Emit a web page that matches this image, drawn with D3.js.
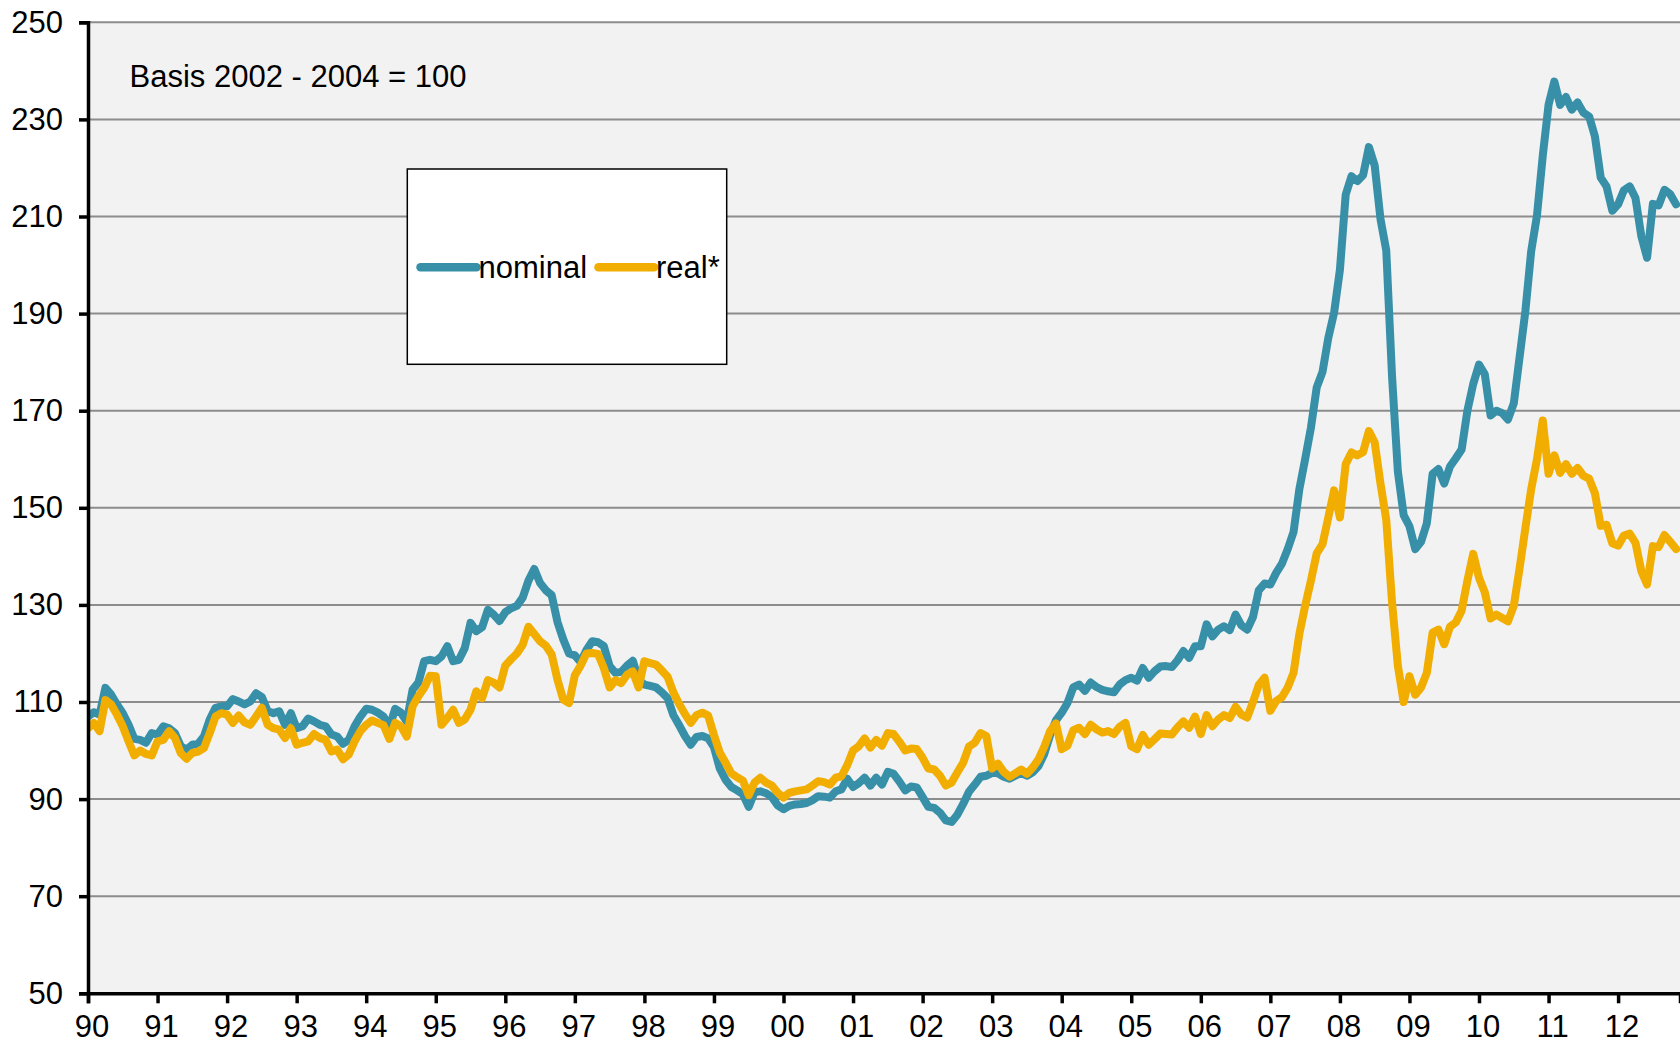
<!DOCTYPE html>
<html>
<head>
<meta charset="utf-8">
<script src="https://cdn.jsdelivr.net/npm/d3@7"></script>
<style>
  html, body { margin: 0; padding: 0; background: #ffffff; }
  svg { display: block; }
  text { font-family: "Liberation Sans", Arial, Helvetica, sans-serif; fill: #000; }
</style>
</head>
<body>
<svg id="chart" width="1680" height="1044"></svg>
<script>
// ---------- DATA ----------
const startYear = 1990; // first value = January 1990, monthly values
const nominal = [
  107.0,107.9,107.4,112.9,111.5,109.5,107.7,105.3,102.4,102.2,101.6,103.6,
  103.3,105.0,104.6,103.6,100.9,100.2,101.2,101.4,102.9,106.4,108.8,109.1,
  109.1,110.6,110.1,109.5,110.1,111.8,111.0,108.1,107.7,108.1,105.3,107.7,
  104.6,105.0,106.6,106.0,105.3,105.0,103.3,102.9,101.4,102.2,105.0,107.0,
  108.6,108.4,107.8,107.0,104.8,108.6,107.8,106.0,112.5,114.0,118.4,118.7,
  118.4,119.4,121.5,118.4,118.7,121.1,126.3,124.6,125.4,129.0,128.0,126.7,
  128.5,129.3,129.8,131.5,135.0,137.4,134.5,133.0,132.0,126.5,122.9,120.0,
  119.6,118.2,120.7,122.5,122.3,121.5,117.4,116.0,116.2,117.5,118.5,114.5,
  113.6,113.3,113.0,112.0,110.8,107.3,105.2,103.0,101.2,102.8,103.0,102.5,
  100.7,96.3,94.0,92.5,91.8,91.0,88.4,91.4,91.6,91.2,90.4,88.7,
  87.9,88.6,88.9,89.0,89.2,89.8,90.6,90.5,90.3,91.6,92.0,94.2,
  92.5,93.3,94.4,92.8,94.4,93.0,95.6,95.2,93.6,91.8,92.6,92.4,
  90.4,88.4,88.2,87.2,85.6,85.3,86.8,89.0,91.5,93.0,94.6,94.8,
  95.4,95.3,94.6,94.2,94.8,95.4,94.8,95.5,96.8,99.3,103.2,106.2,
  107.8,109.8,113.0,113.6,112.3,114.0,113.1,112.5,112.2,112.0,113.6,114.5,
  115.0,114.4,117.0,115.0,116.3,117.3,117.4,117.2,118.6,120.5,119.1,121.5,
  121.5,126.0,123.5,124.9,125.6,124.8,128.0,125.8,124.9,127.5,133.0,134.4,
  134.2,136.6,138.5,141.5,145.0,153.8,160.0,166.5,174.8,178.0,185.0,190.2,
  199.0,214.5,218.3,217.3,218.5,224.3,220.5,209.5,203.0,177.0,157.5,148.5,
  146.2,141.5,143.0,146.8,157.0,158.0,155.0,158.5,160.2,162.0,170.0,175.5,
  179.5,177.5,169.0,170.0,169.5,168.2,171.5,181.0,190.5,202.8,210.2,222.5,
  233.0,237.8,233.0,234.6,232.0,233.5,231.4,230.6,226.5,218.0,216.2,211.2,
  212.5,215.4,216.2,213.8,206.0,201.5,212.6,212.3,215.5,214.6,212.5
];
const real = [
  104.6,105.7,104.0,110.4,109.5,107.4,105.0,101.9,99.0,100.0,99.3,99.0,
  101.9,102.2,104.0,102.6,99.5,98.3,99.5,99.8,100.5,103.6,107.0,107.7,
  107.4,105.7,107.2,105.8,105.3,107.0,108.8,105.3,104.6,104.3,102.6,104.6,
  101.2,101.6,101.9,103.4,102.6,102.2,99.8,100.2,98.2,99.2,101.9,104.0,
  105.3,106.2,105.7,105.2,102.4,105.7,105.0,102.9,109.1,111.2,112.9,115.4,
  115.3,105.3,106.7,108.4,105.7,106.4,108.4,112.2,110.8,114.5,114.0,113.0,
  117.5,118.8,120.0,121.8,125.5,124.0,122.5,121.6,119.8,114.6,110.5,109.8,
  115.5,117.5,120.0,120.1,119.9,117.0,113.0,114.5,113.9,115.6,116.3,113.0,
  118.4,118.0,117.7,116.5,115.2,112.0,109.6,107.5,105.7,107.3,107.8,107.2,
  103.2,99.6,97.5,95.3,94.5,93.8,90.8,93.4,94.4,93.4,92.8,91.3,
  90.3,91.3,91.6,91.8,92.0,92.8,93.7,93.5,93.0,94.4,94.7,97.0,
  100.0,100.9,102.5,100.6,102.2,101.0,103.6,103.4,101.8,100.0,100.4,100.3,
  98.5,96.3,96.1,94.8,92.8,93.4,95.5,97.5,100.8,101.6,103.6,103.0,
  96.3,97.3,95.6,94.6,95.3,96.1,95.2,96.5,98.2,100.8,104.0,105.6,
  100.3,101.0,104.2,104.7,103.4,105.3,104.4,103.7,104.0,103.4,104.9,105.7,
  100.9,100.3,103.2,101.2,102.3,103.5,103.4,103.3,104.8,106.0,104.7,107.0,
  103.4,107.3,105.0,106.4,107.3,106.7,109.0,107.4,106.8,110.0,113.5,115.0,
  108.2,110.2,111.0,113.0,116.0,124.0,129.8,135.0,140.6,142.5,148.0,153.6,
  148.0,159.0,161.4,160.8,161.5,165.8,163.5,155.0,147.5,130.5,117.5,110.0,
  115.3,111.5,113.0,116.0,124.3,124.9,121.9,125.5,126.4,128.8,135.0,140.5,
  135.6,132.6,127.2,128.0,127.3,126.6,129.8,137.5,145.8,153.8,160.0,168.0,
  157.0,160.8,157.2,159.0,157.0,158.2,156.6,156.0,153.0,146.3,146.5,142.7,
  142.2,144.3,144.7,142.8,137.0,134.2,142.1,141.9,144.4,143.0,141.5
];
const yearTicks = [1990,1991,1992,1993,1994,1995,1996,1997,1998,1999,2000,2001,
                   2002,2003,2004,2005,2006,2007,2008,2009,2010,2011,2012];
const yearLabels = ["90","91","92","93","94","95","96","97","98","99","00","01",
                    "02","03","04","05","06","07","08","09","10","11","12"];
const yTicks = [50,70,90,110,130,150,170,190,210,230,250];
const seriesNames = ["nominal","real*"];
const noteText = "Basis 2002 - 2004 = 100";

// ---------- LAYOUT ----------
const W = 1680, H = 1044;
const mLeft = 88, mRight = 1680, mTop = 22.3, mBottom = 993.3;
const colors = { nominal: "#3890A8", real: "#F1AD00" };
const fontSize = 31;

const svg = d3.select("#chart");
svg.append("rect").attr("width", W).attr("height", H).attr("fill", "#ffffff");

const x = d3.scaleLinear().domain([1990, 1990 + (mRight - mLeft) / 69.55]).range([mLeft, mRight]);
const y = d3.scaleLinear().domain([50, 250]).range([mBottom, mTop]);

// plot background
svg.append("rect")
  .attr("x", mLeft).attr("y", mTop)
  .attr("width", mRight - mLeft).attr("height", mBottom - mTop)
  .attr("fill", "#F2F2F2");

// gridlines
svg.append("g").selectAll("line")
  .data(yTicks.filter(d => d > 50))
  .join("line")
  .attr("x1", mLeft).attr("x2", mRight)
  .attr("y1", d => y(d)).attr("y2", d => y(d))
  .attr("stroke", "#8C8C8C").attr("stroke-width", 2);

// note
svg.append("text")
  .attr("x", 129.5).attr("y", 87.3)
  .attr("font-size", fontSize)
  .text(noteText);

// lines
svg.append("clipPath").attr("id", "plotclip")
  .append("rect").attr("x", mLeft).attr("y", 0).attr("width", mRight - mLeft).attr("height", H);

const line = d3.line()
  .x((d, i) => x(startYear + i / 12))
  .y(d => y(d))
  .curve(d3.curveLinear);

const lines = svg.append("g").attr("clip-path", "url(#plotclip)");
lines.append("path")
  .datum(nominal)
  .attr("d", line)
  .attr("fill", "none")
  .attr("stroke", colors.nominal)
  .attr("stroke-width", 8)
  .attr("stroke-linejoin", "round")
  .attr("stroke-linecap", "round");
lines.append("path")
  .datum(real)
  .attr("d", line)
  .attr("fill", "none")
  .attr("stroke", colors.real)
  .attr("stroke-width", 8)
  .attr("stroke-linejoin", "round")
  .attr("stroke-linecap", "round");

// y axis
const yAxis = d3.axisLeft(y).tickValues(yTicks).tickSize(9).tickPadding(16).tickFormat(d3.format("d"));
const gy = svg.append("g").attr("transform", `translate(${mLeft},0)`).call(yAxis);
gy.select(".domain").attr("stroke", "#000").attr("stroke-width", 3.5);
gy.selectAll(".tick line").attr("stroke", "#000").attr("stroke-width", 3.5);
gy.selectAll(".tick text")
  .attr("font-size", fontSize)
  .attr("font-family", "'Liberation Sans', Arial, sans-serif")
  .attr("fill", "#000");

// x axis
const xAxis = d3.axisBottom(x).tickValues(yearTicks).tickSize(10)
  .tickFormat((d, i) => yearLabels[i]);
const gx = svg.append("g").attr("transform", `translate(0,${mBottom})`).call(xAxis);
gx.select(".domain").attr("stroke", "#000").attr("stroke-width", 3.5);
gx.selectAll(".tick line").attr("stroke", "#000").attr("stroke-width", 3.5);
gx.selectAll(".tick text")
  .attr("font-size", fontSize)
  .attr("font-family", "'Liberation Sans', Arial, sans-serif")
  .attr("fill", "#000")
  .attr("y", 43.5)
  .attr("dy", 0)
  .attr("dx", 3.5);

// legend
const lg = svg.append("g");
lg.append("rect")
  .attr("x", 407.3).attr("y", 169)
  .attr("width", 319.4).attr("height", 195.3)
  .attr("fill", "#ffffff").attr("stroke", "#000").attr("stroke-width", 1.5);
const legendItems = [
  { name: seriesNames[0], color: colors.nominal, x1: 420.5, x2: 476.5, tx: 478.5 },
  { name: seriesNames[1], color: colors.real, x1: 598.5, x2: 654, tx: 656 }
];
legendItems.forEach(it => {
  lg.append("line")
    .attr("x1", it.x1).attr("x2", it.x2)
    .attr("y1", 267.3).attr("y2", 267.3)
    .attr("stroke", it.color).attr("stroke-width", 8.5)
    .attr("stroke-linecap", "round");
  lg.append("text")
    .attr("x", it.tx).attr("y", 277.5)
    .attr("font-size", fontSize)
    .text(it.name);
});
</script>
</body>
</html>
